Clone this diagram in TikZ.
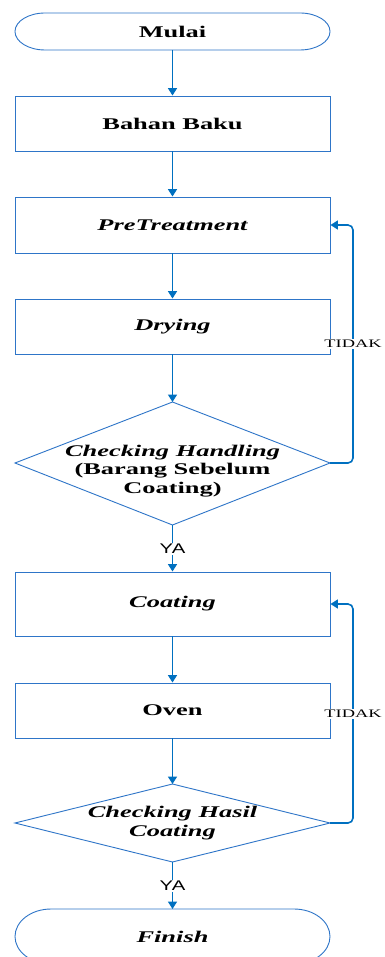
\documentclass[tikz,border=0pt]{standalone}
\usepackage{fontspec}
\setmainfont{Liberation Serif}[FakeStretch=1.62]
\newfontfamily\yafont{Liberation Sans}[FakeStretch=1.45]
\newfontfamily\tidakfont{Liberation Serif}[FakeStretch=1.6]
\usetikzlibrary{arrows.meta}
\definecolor{arrowblue}{RGB}{0,112,192}
\definecolor{boxblue}{RGB}{46,117,200}
\tikzset{
 box/.style={draw=boxblue, line width=0.9pt, minimum width=315pt, minimum height=55pt, inner sep=0pt, font=\fontsize{16.3}{19}\selectfont\bfseries},
 termtext/.style={minimum width=315pt, inner sep=0pt, font=\fontsize{16.3}{19}\selectfont\bfseries},
 lbl/.style={font=\fontsize{16.3}{18.5}\selectfont\bfseries, align=center, inner sep=0pt},
 flow/.style={draw=arrowblue, line width=1.6pt, -{Triangle[width=9pt,length=7.5pt]}},
 shapeline/.style={draw=boxblue, line width=0.9pt},
 ya/.style={fill=white, font=\yafont\fontsize{14}{14}\selectfont, inner sep=1.5pt},
 tidak/.style={fill=white, font=\tidakfont\fontsize{11.5}{11.5}\selectfont, inner sep=1pt},
}
\begin{document}
\begin{tikzpicture}[x=1pt,y=-1pt]
\useasboundingbox[fill=white] (0,0) rectangle (384,957);
\clip (0,0) rectangle (384,957);
% Mulai terminal
\node[termtext, minimum height=37pt] (mulai) at (172.5,31.5) {Mulai};
\draw[shapeline] (45,13) -- (300,13) arc[start angle=-90,end angle=90,x radius=30,y radius=18.5]
  -- (45,50) arc[start angle=90,end angle=270,x radius=30,y radius=18.5] -- cycle;
% boxes
\node[box] (bahan) at (172.5,123.5) {Bahan Baku};
\node[box, minimum height=56pt] (pre) at (172.5,225) {\itshape PreTreatment};
\node[box] (dry) at (172.5,326.5) {\itshape Drying};
% diamond 1
\coordinate (d1n) at (172.5,402);
\coordinate (d1e) at (330,463);
\coordinate (d1s) at (172.5,525);
\coordinate (d1w) at (15,463);
\draw[shapeline] (d1n) -- (d1e) -- (d1s) -- (d1w) -- cycle;
\node[lbl] (d1t) at (172.5,471) {\itshape Checking Handling\\(Barang Sebelum\\Coating)};
% lower boxes
\node[box, minimum height=64pt] (coat) at (172.5,604) {\itshape Coating};
\node[box] (oven) at (172.5,710.5) {Oven};
% diamond 2
\coordinate (d2n) at (172.5,784);
\coordinate (d2e) at (330,823);
\coordinate (d2s) at (172.5,862);
\coordinate (d2w) at (15,823);
\draw[shapeline] (d2n) -- (d2e) -- (d2s) -- (d2w) -- cycle;
\node[lbl] (d2t) at (172.5,823) {\itshape Checking Hasil\\\itshape Coating};
% Finish terminal
\node[termtext, minimum height=55pt] (fin) at (172.5,936.5) {\itshape Finish};
\draw[shapeline] (51,909) -- (294,909) arc[start angle=-90,end angle=90,x radius=36,y radius=27.5]
  -- (51,964) arc[start angle=90,end angle=270,x radius=36,y radius=27.5] -- cycle;
% connectors
\draw[flow] (172.5,50) -- (bahan.north);
\draw[flow] (bahan.south) -- (pre.north);
\draw[flow] (pre.south) -- (dry.north);
\draw[flow] (dry.south) -- (d1n);
\draw[flow] (d1s) -- (coat.north);
\draw[flow] (coat.south) -- (oven.north);
\draw[flow] (oven.south) -- (d2n);
\draw[flow] (d2s) -- (172.5,909);
\coordinate (fb1a) at (353,463);
\coordinate (fb1b) at (353,225);
\draw[flow, rounded corners=5pt] (d1e) -- (fb1a) -- (fb1b) -- (pre.east);
\coordinate (fb2a) at (353,823);
\coordinate (fb2b) at (353,604);
\draw[flow, rounded corners=5pt] (d2e) -- (fb2a) -- (fb2b) -- (coat.east);
% labels
\node[ya] (ya1) at (172.5,549) {YA};
\node[ya] (ya2) at (172.5,886) {YA};
\node[tidak] (t1) at (353,344) {TIDAK};
\node[tidak] (t2) at (353,714) {TIDAK};
\end{tikzpicture}
\end{document}
